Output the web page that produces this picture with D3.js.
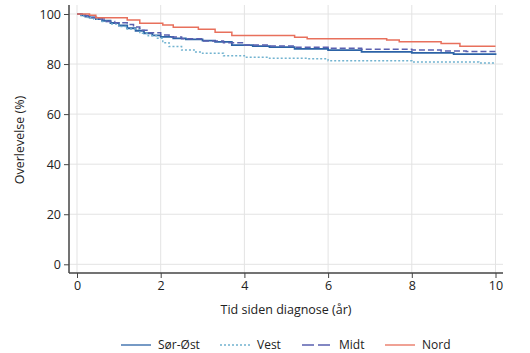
<!DOCTYPE html>
<html>
<head>
<meta charset="utf-8">
<script src="https://cdn.jsdelivr.net/npm/d3@7"></script>
<style>
  body { margin: 0; background: #fff; }
  text { font-family: "Open Sans", sans-serif; fill: #222; }
</style>
</head>
<body>
<div id="main"></div>
<script>
// Kaplan-Meier-kurver, lest av bildet (tid i år, overlevelse i %)
const seriesNames = ["Sør-Øst", "Vest", "Midt", "Nord"];

const sorOstTime = [0, 0.1, 0.2, 0.3, 0.45, 0.6, 0.8, 1.0, 1.2, 1.4, 1.6, 1.8, 2.0, 2.3, 2.6, 3.0, 3.3, 3.7, 4.2, 4.6, 5.2, 6.0, 6.8, 8.0, 9.0, 10];
const sorOstSurv = [100, 99.5, 99, 98.6, 98, 97.3, 96.4, 95.4, 94.3, 93.3, 92.3, 91.5, 90.9, 90.3, 89.9, 89.4, 88.9, 87.6, 87.2, 86.8, 86.1, 85.6, 84.9, 84.5, 84.0, 83.6];

const vestTime = [0, 0.1, 0.25, 0.4, 0.6, 0.8, 1.0, 1.2, 1.5, 1.7, 1.9, 2.05, 2.2, 2.5, 2.8, 3.0, 3.5, 4.0, 4.6, 5.5, 6.0, 8.0, 9.6, 10];
const vestSurv = [100, 99.2, 98.6, 98, 97, 96, 95, 94, 92.3, 91.3, 90.3, 88.5, 87, 85.6, 84.8, 84.3, 83.3, 82.7, 82.3, 82.1, 81.3, 80.8, 80.4, 80.4];

const midtTime = [0, 0.15, 0.3, 0.5, 0.7, 0.9, 1.2, 1.35, 1.5, 1.7, 2.0, 2.2, 2.5, 3.0, 3.5, 4.0, 4.6, 5.2, 6.0, 6.8, 8.0, 8.7, 9.3, 10];
const midtSurv = [100, 99.3, 98.6, 98, 97, 96.5, 95.8, 94.8, 93.5, 92.5, 91.6, 90.8, 90.1, 89.2, 88.5, 87.6, 87.2, 86.7, 86.3, 85.9, 85.6, 85.2, 85.0, 85.0];

const nordTime = [0, 0.3, 0.45, 1.2, 1.5, 2.05, 2.3, 2.9, 3.3, 3.7, 5.2, 5.5, 7.4, 7.7, 8.7, 9.15, 10];
const nordSurv = [100, 99.5, 98.5, 97.6, 96.3, 95.6, 94.7, 93.9, 92.7, 91.4, 90.7, 90.1, 89.6, 88.9, 88.2, 87.1, 87.1];

const xTicks = [0, 2, 4, 6, 8, 10];
const yTicks = [0, 20, 40, 60, 80, 100];

const styles = {
  "Sør-Øst": { color: "#2c63a6", width: 1.8, dash: null },
  "Vest":    { color: "#72b3d0", width: 1.4, dash: "2,2" },
  "Midt":    { color: "#5a60b0", width: 1.5, dash: "6,3" },
  "Nord":    { color: "#e8705c", width: 1.5, dash: null }
};

function toPoints(time, surv) {
  return time.map((t, i) => ({ t: t, s: surv[i] }));
}

const series = [
  { name: "Sør-Øst", points: toPoints(sorOstTime, sorOstSurv) },
  { name: "Vest",    points: toPoints(vestTime, vestSurv) },
  { name: "Midt",    points: toPoints(midtTime, midtSurv) },
  { name: "Nord",    points: toPoints(nordTime, nordSurv) }
];

const W = 530, H = 353;
const frame = { left: 69, right: 503, top: 5, bottom: 273 };

const svg = d3.select("#main").append("svg")
  .attr("width", W)
  .attr("height", H);

const x = d3.scaleLinear().domain([0, 10]).range([77, 495.5]);
const y = d3.scaleLinear().domain([0, 100]).range([264.3, 14]);

// rutenett
svg.append("g").selectAll("line.hg")
  .data(yTicks)
  .join("line")
  .attr("x1", frame.left).attr("x2", frame.right)
  .attr("y1", d => y(d)).attr("y2", d => y(d))
  .attr("stroke", "#e3e3e3").attr("stroke-width", 1);

svg.append("g").selectAll("line.vg")
  .data(xTicks)
  .join("line")
  .attr("x1", d => x(d)).attr("x2", d => x(d))
  .attr("y1", frame.top).attr("y2", frame.bottom)
  .attr("stroke", "#e3e3e3").attr("stroke-width", 1);

// kurver
const line = d3.line()
  .x(d => x(d.t))
  .y(d => y(d.s))
  .curve(d3.curveStepAfter);

svg.append("g").selectAll("path")
  .data(series)
  .join("path")
  .attr("d", d => line(d.points))
  .attr("fill", "none")
  .attr("stroke", d => styles[d.name].color)
  .attr("stroke-width", d => styles[d.name].width)
  .attr("stroke-dasharray", d => styles[d.name].dash);

// akser
const yAxis = svg.append("g")
  .attr("transform", `translate(${frame.left},0)`)
  .call(d3.axisLeft(y).tickValues(yTicks).tickSize(5).tickPadding(3).tickSizeOuter(0));

const xAxis = svg.append("g")
  .attr("transform", `translate(0,${frame.bottom})`)
  .call(d3.axisBottom(x).tickValues(xTicks).tickSize(5).tickPadding(3).tickSizeOuter(0));

[yAxis, xAxis].forEach(g => {
  g.select(".domain").remove();
  g.selectAll(".tick line").attr("stroke", "#444").attr("stroke-width", 1);
  g.selectAll(".tick text").style("font-size", "12.5px").attr("fill", "#222");
});

svg.append("line")
  .attr("x1", frame.left).attr("x2", frame.left)
  .attr("y1", frame.top).attr("y2", frame.bottom)
  .attr("stroke", "#444").attr("stroke-width", 1.5);
svg.append("line")
  .attr("x1", frame.left).attr("x2", frame.right)
  .attr("y1", frame.bottom).attr("y2", frame.bottom)
  .attr("stroke", "#444").attr("stroke-width", 1.5);

// aksetitler
svg.append("text")
  .attr("x", 286).attr("y", 314)
  .attr("text-anchor", "middle")
  .style("font-size", "12.5px")
  .text("Tid siden diagnose (år)");

svg.append("text")
  .attr("transform", "translate(24,140) rotate(-90)")
  .attr("text-anchor", "middle")
  .style("font-size", "12.5px")
  .text("Overlevelse (%)");

// legende
const legendX = [121, 220, 302, 385];
const legend = svg.append("g").selectAll("g")
  .data(series)
  .join("g")
  .attr("transform", (d, i) => `translate(${legendX[i]},345)`);

legend.append("line")
  .attr("x1", 0).attr("x2", 30)
  .attr("stroke", d => styles[d.name].color)
  .attr("stroke-width", 1.3)
  .attr("stroke-dasharray", d => d.name === "Midt" ? "12,4" : styles[d.name].dash);

legend.append("text")
  .attr("x", 37).attr("y", 4)
  .style("font-size", "12px")
  .text(d => d.name);
</script>
</body>
</html>
